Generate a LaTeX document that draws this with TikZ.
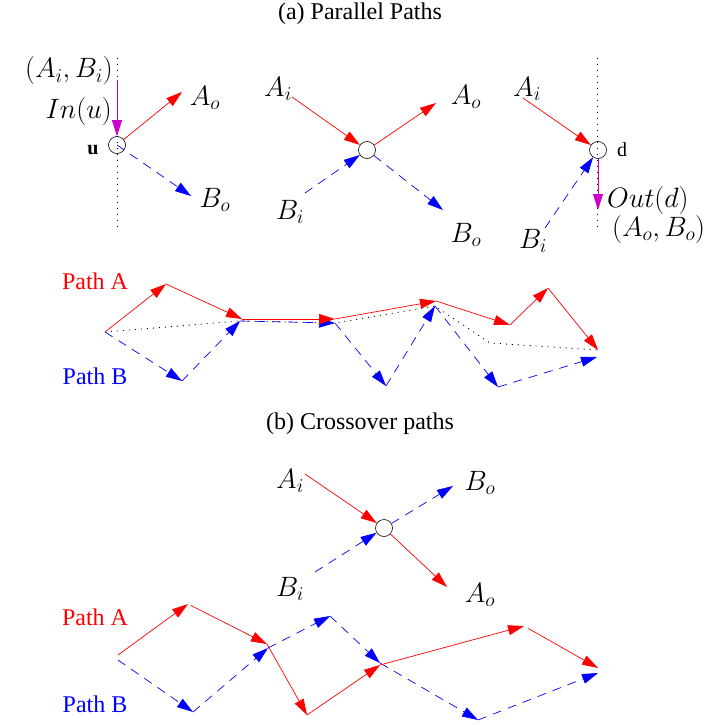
\documentclass[tikz,border=0pt]{standalone}
\usepackage{fix-cm}
\usepackage{fontspec}
\setmainfont{Liberation Serif}
\usetikzlibrary{arrows.meta,positioning}
\definecolor{pathred}{RGB}{255,0,0}
\definecolor{pathblue}{RGB}{0,0,255}
\definecolor{flowmag}{RGB}{204,0,204}
\tikzset{
  ttl/.style={inner sep=0pt, font=\fontsize{24}{28}\selectfont},
  lbl/.style={inner sep=0pt, font=\fontsize{28}{32}\selectfont},
  tag/.style={inner sep=0pt, font=\fontsize{20}{24}\selectfont},
  vtx/.style={draw, circle, minimum size=17pt, inner sep=0pt, line width=0.6pt},
  tip/.style={-{Triangle[length=16pt,width=10pt]}},
  aline/.style={tip, draw=pathred, line width=0.7pt},
  bline/.style={tip, draw=pathblue, line width=0.7pt, dash pattern=on 9pt off 7pt},
  mline/.style={tip, draw=flowmag, line width=0.8pt},
  guide/.style={draw=black, line width=0.9pt, dash pattern=on 1pt off 5pt}
}

\begin{document}
\begin{tikzpicture}[x=1pt, y=-1pt]
  \useasboundingbox (0,0) rectangle (721,725);

  % ---- (a) parallel paths ----
  \node [ttl] (ttla) at (360,14) {(a) Parallel Paths};

  % split node u
  \coordinate (utop) at (117,58);
  \coordinate (ubot) at (117,228);
  \draw [guide] (utop) -- (ubot);
  \node [vtx] (u) at (117,145) {};
  \node [tag, font=\fontsize{20}{24}\selectfont\bfseries] (ulab) at (93,150) {u};
  \node [lbl, anchor=east] (uAB) at (113,71) {$(A_i,B_i)$};
  \node [lbl, anchor=east] (uIn) at (112,111) {$In(u)$};
  \node [lbl] (uAo) at (205,98) {$A_o$};
  \node [lbl] (uBo) at (215,200) {$B_o$};
  \coordinate (uinS) at (117,80);
  \coordinate (uAt) at (182,92);
  \coordinate (uBt) at (191,196);
  \draw [mline] (uinS) -- (u);
  \draw [bline] (u.center) -- (uBt);
  \draw [aline] (u) -- (uAt);

  % middle node
  \node [vtx] (m) at (367,150) {};
  \node [lbl] (mAi) at (278,89) {$A_i$};
  \node [lbl] (mAo) at (466,97) {$A_o$};
  \node [lbl] (mBi) at (290,212) {$B_i$};
  \node [lbl] (mBo) at (466,235) {$B_o$};
  \coordinate (mAs) at (292,97);
  \coordinate (mAt) at (436,103);
  \coordinate (mBs) at (305,193);
  \coordinate (mBt) at (443,210);
  \draw [bline] (mBs) -- (m);
  \draw [bline] (m) -- (mBt);
  \draw [aline] (mAs) -- (m);
  \draw [aline] (m) -- (mAt);

  % merge node d
  \coordinate (dtop) at (597,58);
  \coordinate (dbot) at (597,228);
  \draw [guide] (dtop) -- (dbot);
  \node [vtx] (d) at (598,150) {};
  \node [tag] (dlab) at (622,150) {d};
  \node [lbl] (dAi) at (527,89) {$A_i$};
  \node [lbl] (dBi) at (533,241) {$B_i$};
  \node [lbl, anchor=west] (dOut) at (607,200) {$Out(d)$};
  \node [lbl, anchor=west] (dAB) at (612,229) {$(A_o,B_o)$};
  \coordinate (dAs) at (523,98);
  \coordinate (dBs) at (545,228);
  \coordinate (doutT) at (598,210);
  \draw [bline] (dBs) -- (d);
  \draw [aline] (dAs) -- (d);
  \draw [mline] (d) -- (doutT);

  % parallel path pair
  \node [ttl, text=pathred] (pA1) at (95,281) {Path A};
  \node [ttl, text=pathblue] (pB1) at (95,376) {Path B};
  \coordinate (pa1) at (105,332);
  \coordinate (pa2) at (166,284);
  \coordinate (pa3) at (242,319);
  \coordinate (pa4) at (335,319);
  \coordinate (pa5) at (436,301);
  \coordinate (pa6) at (510,325);
  \coordinate (pa7) at (548,288);
  \coordinate (pa8) at (598,350);
  \coordinate (pb1) at (105,332);
  \coordinate (pb2) at (182,381);
  \coordinate (pb3) at (240,321);
  \coordinate (pb4) at (335,323);
  \coordinate (pb5) at (386,386);
  \coordinate (pb6) at (435,306);
  \coordinate (pb7) at (498,387);
  \coordinate (pb8) at (597,357);
  \coordinate (pd4) at (490,343);
  \draw [guide] (pa1) -- (pb3) -- (pb4) -- (pb6) -- (pd4) -- (pa8);
  \draw [bline] (pb1) -- (pb2);
  \draw [bline] (pb2) -- (pb3);
  \draw [bline] (pb3) -- (pb4);
  \draw [bline] (pb4) -- (pb5);
  \draw [bline] (pb5) -- (pb6);
  \draw [bline] (pb6) -- (pb7);
  \draw [bline] (pb7) -- (pb8);
  \draw [aline] (pa1) -- (pa2);
  \draw [aline] (pa2) -- (pa3);
  \draw [aline] (pa3) -- (pa4);
  \draw [aline] (pa4) -- (pa5);
  \draw [aline] (pa5) -- (pa6);
  \draw [aline] (pa6) -- (pa7);
  \draw [aline] (pa7) -- (pa8);

  % ---- (b) crossover paths ----
  \node [ttl] (ttlb) at (360,424) {(b) Crossover paths};

  \node [vtx] (c) at (384,528) {};
  \node [lbl] (cAi) at (290,481) {$A_i$};
  \node [lbl] (cBo) at (480,483) {$B_o$};
  \node [lbl] (cBi) at (290,589) {$B_i$};
  \node [lbl] (cAo) at (480,595) {$A_o$};
  \coordinate (cAs) at (305,474);
  \coordinate (cAt) at (447,587);
  \coordinate (cBs) at (315,572);
  \coordinate (cBt) at (453,486);
  \draw [bline] (cBs) -- (c);
  \draw [bline] (c) -- (cBt);
  \draw [aline] (cAs) -- (c);
  \draw [aline] (c) -- (cAt);

  % crossing path pair
  \node [ttl, text=pathred] (pA2) at (95,617) {Path A};
  \node [ttl, text=pathblue] (pB2) at (95,704) {Path B};
  \coordinate (qa1) at (118,655);
  \coordinate (qa2) at (188,604);
  \coordinate (qa3) at (267,644);
  \coordinate (qa4) at (307,715);
  \coordinate (qa5) at (380,665);
  \coordinate (qa6) at (524,626);
  \coordinate (qa7) at (598,668);
  \coordinate (qb1) at (118,660);
  \coordinate (qb2) at (193,712);
  \coordinate (qb3) at (268,648);
  \coordinate (qb4) at (330,616);
  \coordinate (qb5) at (380,663);
  \coordinate (qb6) at (478,720);
  \coordinate (qb7) at (598,673);
  \draw [bline] (qb1) -- (qb2);
  \draw [bline] (qb2) -- (qb3);
  \draw [bline] (qb3) -- (qb4);
  \draw [bline] (qb4) -- (qb5);
  \draw [bline] (qb5) -- (qb6);
  \draw [bline] (qb6) -- (qb7);
  \draw [aline] (qa1) -- (qa2);
  \draw [aline, shorten <=3pt] (qa2) -- (qa3);
  \draw [aline] (qa3) -- (qa4);
  \draw [aline] (qa4) -- (qa5);
  \draw [aline] (qa5) -- (qa6);
  \draw [aline, shorten <=5pt] (qa6) -- (qa7);
\end{tikzpicture}
\end{document}
